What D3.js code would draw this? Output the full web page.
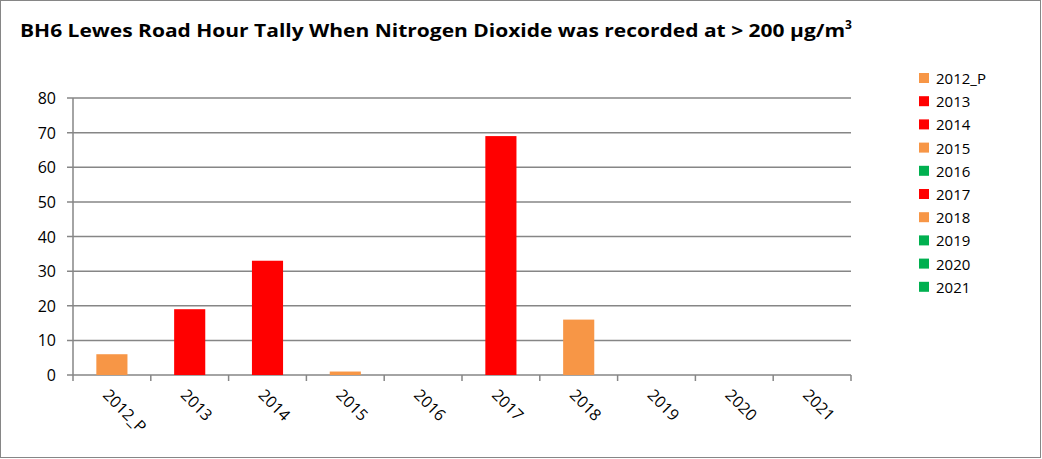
<!DOCTYPE html><html><head><script src="https://d3js.org/d3.v7.min.js"></script>
<style>body{margin:0;background:#fff}text{font-family:"Open Sans","DejaVu Sans",sans-serif}</style></head><body>
<svg id="c" width="1042" height="459"></svg>
<script>
const categories=["2012_P","2013","2014","2015","2016","2017","2018","2019","2020","2021"];
const values=[6,19,33,1,0,69,16,0,0,0];
const colors=["#F79646","#FF0000","#FF0000","#F79646","#00B050","#FF0000","#F79646","#00B050","#00B050","#00B050"];
const yTicks=[0,10,20,30,40,50,60,70,80];
const svg=d3.select("#c");
svg.append("rect").attr("x",0.5).attr("y",0.5).attr("width",1040).attr("height",457).attr("fill","#fff").attr("stroke","#868686");
const tt=svg.append("text").attr("x",20).attr("y",37).attr("font-size",17).attr("font-weight","bold");
tt.append("tspan").attr("textLength",825).attr("lengthAdjust","spacingAndGlyphs").text("BH6 Lewes Road Hour Tally When Nitrogen Dioxide was recorded at > 200  µg/m");
tt.append("tspan").attr("dy",-8).attr("font-size",12).text("3");
const xb=d3.scaleBand().domain(categories).range([73,851]);
const y=d3.scaleLinear().domain([0,80]).range([375,98]);
const g=svg.append("g");
yTicks.forEach(t=>{g.append("line").attr("x1",67).attr("x2",851).attr("y1",y(t)).attr("y2",y(t)).attr("stroke","#868686").attr("stroke-width",1.5);
g.append("text").attr("x",56).attr("y",y(t)+6).attr("text-anchor","end").attr("font-size",16).text(t);});
g.append("line").attr("x1",73).attr("x2",73).attr("y1",98).attr("y2",375).attr("stroke","#868686").attr("stroke-width",1.5);
categories.forEach((c,i)=>{
 g.append("rect").attr("x",xb(c)+xb.bandwidth()*0.3).attr("width",xb.bandwidth()*0.4).attr("y",y(values[i])).attr("height",y(0)-y(values[i])).attr("fill",colors[i]);
 g.append("line").attr("x1",xb(c)+xb.bandwidth()).attr("x2",xb(c)+xb.bandwidth()).attr("y1",375).attr("y2",381).attr("stroke","#868686").attr("stroke-width",1.5);
 const cx=xb(c)+xb.bandwidth()/2-10;
 g.append("text").attr("transform",`translate(${cx},${396}) rotate(45)`).attr("font-size",16).text(c);
});
g.append("line").attr("x1",73).attr("x2",73).attr("y1",375).attr("y2",381).attr("stroke","#868686").attr("stroke-width",1.5);
categories.forEach((c,i)=>{const ly=78+i*23.2;
 svg.append("rect").attr("x",919).attr("y",ly-5).attr("width",10).attr("height",10).attr("fill",colors[i]);
 svg.append("text").attr("x",936).attr("y",ly+6).attr("font-size",15).text(c);});
</script></body></html>
